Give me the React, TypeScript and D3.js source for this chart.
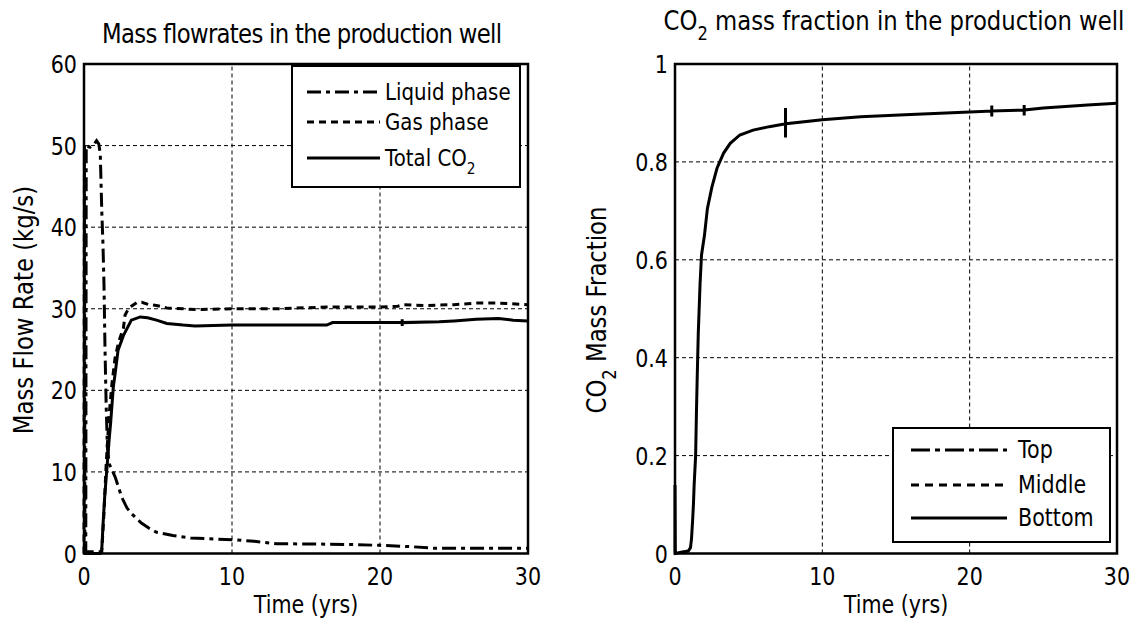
import React from "react";
import * as d3 from "d3";

// ---------------- DATA ----------------
const timeTicks = [0, 10, 20, 30];
const flowTicks = [0, 10, 20, 30, 40, 50, 60];
const fracTicks = [0, 0.2, 0.4, 0.6, 0.8, 1];

// Mass flow rates (time in yrs, kg/s)
const liquidPhase: [number, number][] = [
  [0, 0], [0.12, 0], [0.15, 50], [0.4, 49.8], [0.7, 50.2], [0.85, 50.6], [1.0, 50.2],
  [1.1, 49], [1.2, 42], [1.28, 38], [1.35, 33], [1.42, 25], [1.5, 18], [1.58, 13],
  [1.7, 11], [1.9, 10.2], [2.1, 9.4], [2.3, 8.3], [2.55, 6.9], [2.9, 5.6], [3.2, 4.9],
  [3.6, 4.2], [3.9, 3.7], [4.4, 3.1], [4.9, 2.6], [5.5, 2.4], [6.0, 2.2], [7.2, 1.9],
  [8.5, 1.8], [10, 1.7], [11.5, 1.5], [13, 1.2], [16, 1.15], [18, 1.1], [20, 1.0],
  [22, 0.85], [23.6, 0.65], [26, 0.65], [30, 0.65],
];
const gasPhase: [number, number][] = [
  [0, 0], [0.03, 50], [0.06, 0.2], [1.2, 0.2], [1.35, 5], [1.5, 11], [1.7, 17], [1.9, 21],
  [2.1, 24], [2.35, 26], [2.66, 27.6], [2.77, 29.2], [3.0, 30], [3.2, 30.3], [3.6, 30.8],
  [3.9, 30.8], [4.4, 30.5], [4.9, 30.4], [5.6, 30.1], [7.6, 29.9], [10, 30], [13, 30],
  [16.4, 30.2], [18.2, 30.2], [20, 30.2], [21.2, 30.3], [21.6, 30.5], [23, 30.4],
  [25, 30.5], [26.5, 30.7], [28, 30.7], [30, 30.5],
];
const totalCO2: [number, number][] = [
  [0, 0], [1.1, 0], [1.2, 0.5], [1.3, 4], [1.4, 7], [1.53, 10], [1.7, 14], [1.8, 16],
  [1.98, 20.4], [2.1, 22], [2.3, 24.9], [2.66, 26.7], [3.2, 28.6], [3.8, 29.0], [4.3, 28.9],
  [4.9, 28.6], [5.6, 28.2], [6.7, 28.0], [7.5, 27.9], [10, 28], [13, 28], [16.4, 28.0],
  [16.8, 28.3], [18.6, 28.3], [21.5, 28.3], [21.5, 27.9], [21.5, 28.7], [21.5, 28.3],
  [24, 28.4], [25, 28.5], [26.5, 28.7], [28, 28.8], [29, 28.6], [30, 28.5],
];

// CO2 mass fraction (bottom section)
const bottomFraction: [number, number][] = [
  [0, 0], [0, 0.14], [0.02, 0], [0.5, 0.003], [0.9, 0.005], [1.05, 0.012], [1.12, 0.03],
  [1.2, 0.07], [1.25, 0.1], [1.3, 0.14], [1.4, 0.2], [1.45, 0.28], [1.5, 0.35],
  [1.58, 0.45], [1.7, 0.55], [1.8, 0.61], [2.0, 0.65], [2.2, 0.705], [2.5, 0.748],
  [2.85, 0.787], [3.3, 0.818], [3.75, 0.838], [4.4, 0.855], [5.3, 0.865], [6.4, 0.872],
  [7.5, 0.878], [7.5, 0.85], [7.5, 0.91], [7.5, 0.878], [10, 0.886], [12.6, 0.892],
  [16, 0.897], [20, 0.902], [21.5, 0.904], [21.5, 0.893], [21.5, 0.915], [21.5, 0.904],
  [23.7, 0.906], [23.7, 0.895], [23.7, 0.916], [23.7, 0.906], [25, 0.91], [28, 0.916],
  [30, 0.92],
];

const flowLegend = ["Liquid phase", "Gas phase", "Total CO"];
const fracLegend = ["Top", "Middle", "Bottom"];

// ---------------- STYLE ----------------
const FONT = "DejaVu Sans";
const SX = 0.86;
const FS = 24;
const FS_BIG = 26.5;

function T(props: {
  x: number; y: number; anchor?: string; size?: number; rotate?: number; children: any;
  textLength?: number;
}) {
  const { x, y, anchor = "start", size = FS, rotate = 0, children, textLength } = props;
  return (
    <g transform={`translate(${x},${y}) rotate(${rotate}) scale(${SX},1)`}>
      <text
        textAnchor={anchor as any}
        fontFamily={FONT}
        fontSize={size}
        fill="#000"
        textLength={textLength}
        lengthAdjust={textLength ? "spacing" : undefined}
      >
        {children}
      </text>
    </g>
  );
}

const dashDotL = "14,5,4,5";
const dashDotR = "19,5,5,5";
const dotted = "7,5";

export default function App() {
  // left panel scales
  const xL = d3.scaleLinear().domain([0, 30]).range([84, 528]);
  const yL = d3.scaleLinear().domain([0, 60]).range([553.5, 64]);
  // right panel scales
  const xR = d3.scaleLinear().domain([0, 30]).range([675, 1117]);
  const yR = d3.scaleLinear().domain([0, 1]).range([553.5, 64]);

  const lineL = d3.line<[number, number]>().x((d) => xL(d[0])).y((d) => yL(d[1]));
  const lineR = d3.line<[number, number]>().x((d) => xR(d[0])).y((d) => yR(d[1]));

  const grid = (xs: any, ys: any, yt: number[]) => (
    <g stroke="#000" strokeWidth={1} strokeDasharray="4,3">
      {timeTicks.slice(1, -1).map((t) => (
        <line key={"v" + t} x1={xs(t)} x2={xs(t)} y1={ys.range()[0]} y2={ys.range()[1]} />
      ))}
      {yt.slice(1, -1).map((v) => (
        <line key={"h" + v} x1={xs.range()[0]} x2={xs.range()[1]} y1={ys(v)} y2={ys(v)} />
      ))}
    </g>
  );

  const frame = (xs: any, ys: any) => (
    <rect
      x={xs.range()[0]}
      y={ys.range()[1]}
      width={xs.range()[1] - xs.range()[0]}
      height={ys.range()[0] - ys.range()[1]}
      fill="none"
      stroke="#000"
      strokeWidth={2.5}
    />
  );

  const xTickLabels = (xs: any) =>
    timeTicks.map((t) => (
      <T key={"xt" + t} x={xs(t)} y={585} anchor="middle">
        {String(t)}
      </T>
    ));

  const yTickLabels = (xs: any, ys: any, ticks: number[]) =>
    ticks.map((v) => (
      <T key={"yt" + v} x={xs.range()[0] - 7} y={ys(v) + 9} anchor="end">
        {String(v)}
      </T>
    ));

  const lx = [307, 380];
  const rx = [911, 1007];
  const lRows = [92, 122, 158];
  const rRows = [450, 485, 518];
  const lStyles = [dashDotL, dotted, ""];
  const rStyles = [dashDotR, "8,6", ""];

  return (
    <div style={{ position: "absolute", left: 0, top: 0 }}>
      <svg width={1143} height={631} style={{ display: "block", background: "#fff" }}>
        <rect x={0} y={0} width={1143} height={631} fill="#fff" />

        {/* ---------- LEFT PANEL ---------- */}
        {grid(xL, yL, flowTicks)}
        <g fill="none" stroke="#000" strokeWidth={3}>
          <path d={lineL(liquidPhase) || ""} strokeDasharray={dashDotL} />
          <path d={lineL(gasPhase) || ""} strokeDasharray={dotted} />
          <path d={lineL(totalCO2) || ""} />
        </g>
        {frame(xL, yL)}
        {xTickLabels(xL)}
        {yTickLabels(xL, yL, flowTicks)}
        <T x={102} y={43} anchor="start" size={FS_BIG} textLength={400 / SX}>
          Mass flowrates in the production well
        </T>
        <T x={306} y={613} anchor="middle">Time (yrs)</T>
        <T x={33} y={310} anchor="middle" rotate={-90} size={FS_BIG}>Mass Flow Rate (kg/s)</T>

        {/* left legend */}
        <rect x={292} y={66} width={228} height={121} fill="#fff" stroke="#000" strokeWidth={2} />
        {flowLegend.map((name, i) => (
          <g key={name}>
            <line
              x1={lx[0]} x2={lx[1]} y1={lRows[i]} y2={lRows[i]}
              stroke="#000" strokeWidth={3}
              strokeDasharray={lStyles[i] || undefined}
            />
            <T x={385} y={lRows[i] + 8} size={23}>
              {name}
              {i === 2 ? <tspan dy={8} fontSize={16}>2</tspan> : null}
            </T>
          </g>
        ))}

        {/* ---------- RIGHT PANEL ---------- */}
        {grid(xR, yR, fracTicks)}
        <g fill="none" stroke="#000" strokeWidth={3}>
          <path d={lineR(bottomFraction) || ""} />
        </g>
        {frame(xR, yR)}
        {xTickLabels(xR)}
        {yTickLabels(xR, yR, fracTicks)}
        <T x={894} y={30} anchor="middle" size={FS_BIG}>
          CO<tspan dy={10} fontSize={19}>2</tspan>
          <tspan dy={-10}> mass fraction in the production well</tspan>
        </T>
        <T x={896} y={613} anchor="middle">Time (yrs)</T>
        <T x={606} y={310} anchor="middle" rotate={-90} size={FS_BIG}>
          CO<tspan dy={10} fontSize={19}>2</tspan>
          <tspan dy={-10}> Mass Fraction</tspan>
        </T>

        {/* right legend */}
        <rect x={893} y={428} width={217} height={114} fill="#fff" stroke="#000" strokeWidth={2} />
        {fracLegend.map((name, i) => (
          <g key={name}>
            <line
              x1={rx[0]} x2={rx[1]} y1={rRows[i]} y2={rRows[i]}
              stroke="#000" strokeWidth={3}
              strokeDasharray={rStyles[i] || undefined}
            />
            <T x={1018} y={rRows[i] + 8} size={24}>{name}</T>
          </g>
        ))}
      </svg>
    </div>
  );
}
